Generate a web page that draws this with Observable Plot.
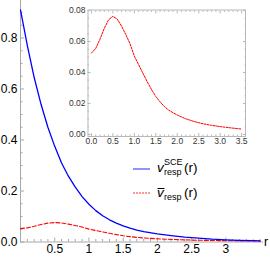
<!DOCTYPE html>
<html><head><meta charset="utf-8">
<script src="https://cdn.jsdelivr.net/npm/d3@7"></script>
<script src="https://cdn.jsdelivr.net/npm/@observablehq/plot@0.6"></script>
<style>
body{margin:0;background:#fff;}
#wrap{position:relative;width:270px;height:257px;overflow:hidden;font-family:"Liberation Sans",Arial,sans-serif;}
#wrap > svg{position:absolute;}
</style></head><body><div id="wrap"></div>
<script>
// r grid and series values
const rValues = [0,0.1,0.2,0.3,0.4,0.5,0.6,0.7,0.8,0.9,1.0,1.1,1.2,1.3,1.4,1.5,1.6,1.7,1.8,2.0,2.2,2.4,2.6,2.8,3.0,3.2,3.4,3.5];
const vSCE    = [0.91,0.77,0.645,0.54,0.45,0.375,0.31,0.258,0.215,0.178,0.148,0.123,0.103,0.087,0.074,0.063,0.054,0.047,0.041,0.032,0.025,0.019,0.015,0.011,0.0085,0.0065,0.005,0.0045];
const vBar    = [0.0525,0.0555,0.0615,0.0685,0.0740,0.0762,0.0745,0.0700,0.0645,0.0585,0.0505,0.0450,0.0395,0.0340,0.0290,0.0245,0.0210,0.0180,0.0157,0.0125,0.0101,0.0083,0.0069,0.0059,0.0051,0.0044,0.0038,0.0035];
const mainYTicks = [0,0.2,0.4,0.6,0.8];
const mainXTicks = [0.5,1,1.5,2,2.5,3];
const insetXTicks = [0,0.5,1,1.5,2,2.5,3,3.5];
const insetYTicks = [0,0.02,0.04,0.06,0.08];

const sce = rValues.map((r,i)=>({r, v:vSCE[i]}));
const bar = rValues.map((r,i)=>({r, v:vBar[i]}));

const axisColor = "#a8a8a8";
const font = "'Liberation Sans', Arial, sans-serif";
const notMajor = (arr, majors) => arr.filter(v => !majors.some(t => Math.abs(t - v) < 1e-6));
const minorMainY = notMajor(d3.range(0, 0.93, 0.05).map(v=>+v.toFixed(3)), mainYTicks);
const minorMainX = notMajor(d3.range(0.1, 3.55, 0.1).map(v=>+v.toFixed(3)), mainXTicks);
const minorInsetX = notMajor(d3.range(0, 3.55, 0.1).map(v=>+v.toFixed(3)), insetXTicks);
const minorInsetY = notMajor(d3.range(0, 0.0801, 0.005).map(v=>+v.toFixed(4)), insetYTicks);
const blank = () => "";

const main = Plot.plot({
  width: 270, height: 257,
  marginLeft: 20, marginRight: 7, marginTop: 0, marginBottom: 15.5,
  x: {domain: [0, 3.55]},
  y: {domain: [0, 0.947]},
  style: {fontFamily: font, fontSize: "12px", color: "#000", background: "transparent"},
  marks: [
    Plot.ruleX([0], {stroke: axisColor}),
    Plot.ruleY([0], {stroke: axisColor}),
    Plot.axisY({ticks: mainYTicks, anchor: "left", tickSize: 4, dx: 4, tickPadding: 3, stroke: axisColor, fill: "#000", tickFormat: d3.format(".1f"), label: null}),
    Plot.axisY({ticks: minorMainY, anchor: "left", tickSize: 2.5, dx: 2.5, stroke: axisColor, tickFormat: blank, label: null}),
    Plot.axisX({ticks: mainXTicks, anchor: "bottom", tickSize: 4, dy: -4, tickPadding: 2, stroke: axisColor, fill: "#000", tickFormat: d => String(d), label: null}),
    Plot.axisX({ticks: minorMainX, anchor: "bottom", tickSize: 2.5, dy: -2.5, stroke: axisColor, tickFormat: blank, label: null}),
    Plot.line(bar, {x: "r", y: "v", stroke: "#ff0000", strokeWidth: 1.1, strokeDasharray: "4,2"}),
    Plot.line(sce, {x: "r", y: "v", stroke: "#0000ff", strokeWidth: 1.3})
  ]
});
main.style.left = "0px"; main.style.top = "0px";

const inset = Plot.plot({
  width: 200, height: 152,
  marginLeft: 32.5, marginRight: 10, marginTop: 9.5, marginBottom: 16,
  x: {domain: [-0.08, 3.59]},
  y: {domain: [-0.0013, 0.0803]},
  style: {fontFamily: font, fontSize: "8.5px", color: "#333", background: "transparent"},
  marks: [
    Plot.frame({stroke: "#b8b8b8"}),
    Plot.axisY({ticks: insetYTicks, anchor: "left", tickSize: 3, dx: 3, tickPadding: 2.5, stroke: "#b8b8b8", fill: "#333", tickFormat: d3.format(".2f"), label: null}),
    Plot.axisY({ticks: minorInsetY, anchor: "left", tickSize: 1.5, dx: 1.5, stroke: "#b8b8b8", tickFormat: blank, label: null}),
    Plot.axisY({ticks: insetYTicks, anchor: "right", tickSize: 3, dx: -3, stroke: "#b8b8b8", tickFormat: blank, label: null}),
    Plot.axisY({ticks: minorInsetY, anchor: "right", tickSize: 1.5, dx: -1.5, stroke: "#b8b8b8", tickFormat: blank, label: null}),
    Plot.axisX({ticks: insetXTicks, anchor: "bottom", tickSize: 3, dy: -3, tickPadding: 1.5, stroke: "#b8b8b8", fill: "#333", tickFormat: d3.format(".1f"), label: null}),
    Plot.axisX({ticks: minorInsetX, anchor: "bottom", tickSize: 1.5, dy: -1.5, stroke: "#b8b8b8", tickFormat: blank, label: null}),
    Plot.axisX({ticks: insetXTicks, anchor: "top", tickSize: 3, dy: 3, stroke: "#b8b8b8", tickFormat: blank, label: null}),
    Plot.axisX({ticks: minorInsetX, anchor: "top", tickSize: 1.5, dy: 1.5, stroke: "#b8b8b8", tickFormat: blank, label: null}),
    Plot.line(bar, {x: "r", y: "v", stroke: "#ff0000", strokeWidth: 1, strokeDasharray: "2,1.2"})
  ]
});
inset.style.left = "55px"; inset.style.top = "0px";

const wrap = document.getElementById("wrap");
wrap.appendChild(main);
wrap.appendChild(inset);

// legend and axis label overlay
const ns = "http://www.w3.org/2000/svg";
const ov = document.createElementNS(ns, "svg");
ov.setAttribute("width", 270); ov.setAttribute("height", 257);
ov.style.left = "0px"; ov.style.top = "0px";
ov.setAttribute("font-family", font);
ov.innerHTML = `
  <line x1="133" x2="150" y1="169" y2="169" stroke="#4a4aff" stroke-width="1.2"/>
  <line x1="133" x2="150" y1="193" y2="193" stroke="#ff3030" stroke-width="1" stroke-dasharray="2,1"/>
  <text x="157" y="172" font-size="13.5" font-style="italic">v</text>
  <text x="164" y="165" font-size="9">SCE</text>
  <text x="164" y="175" font-size="9">resp</text>
  <text x="184" y="172" font-size="13.5">(r)</text>
  <text x="157" y="197" font-size="13.5" font-style="italic">v</text>
  <line x1="157.5" x2="164.5" y1="188.5" y2="188.5" stroke="#000" stroke-width="1"/>
  <text x="164" y="200" font-size="9">resp</text>
  <text x="184" y="197" font-size="13.5">(r)</text>
  <text x="264" y="245.5" font-size="12.5">r</text>
`;
wrap.appendChild(ov);
</script>
</body></html>
